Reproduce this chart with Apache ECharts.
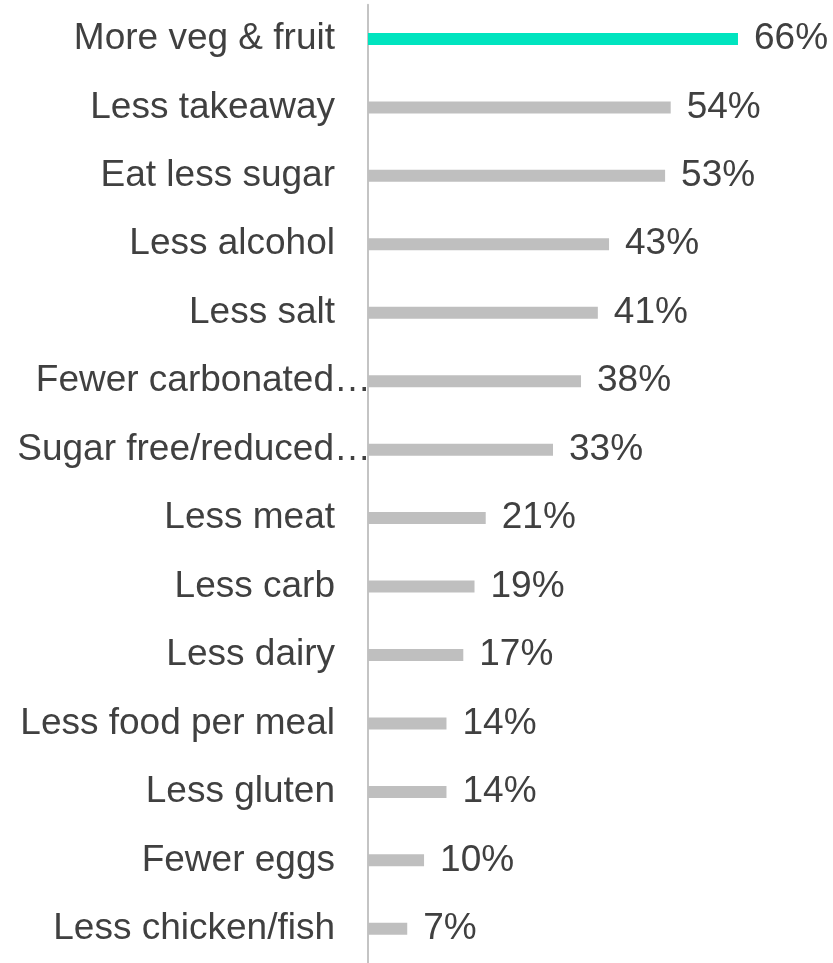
<!DOCTYPE html>
<html>
<head>
<meta charset="utf-8">
<script src="https://cdn.jsdelivr.net/npm/echarts@6/dist/echarts.min.js"></script>
<style>
  html, body { margin: 0; padding: 0; background: #ffffff; }
  #chart { width: 833px; height: 963px; }
</style>
</head>
<body>
<div id="chart"></div>
<script>
// Dietary changes, share of respondents (%)
const categories = [
  'More veg & fruit', 'Less takeaway', 'Eat less sugar', 'Less alcohol', 'Less salt',
  'Fewer carbonated…', 'Sugar free/reduced…', 'Less meat', 'Less carb', 'Less dairy',
  'Less food per meal', 'Less gluten', 'Fewer eggs', 'Less chicken/fish'
];
const shares = [66, 54, 53, 43, 41, 38, 33, 21, 19, 17, 14, 14, 10, 7];
const highlighted = ['More veg & fruit'];

const GREEN = '#00e4bf';
const GREY = '#bfbfbf';
const TEXT = '#404040';
const FONT = '"Liberation Sans", Arial, sans-serif';

// Long (truncated) labels run past the usual right edge, up to the axis line
const longLabels = ['Fewer carbonated…', 'Sugar free/reduced…'];

const chart = echarts.init(document.getElementById('chart'), null, { renderer: 'canvas' });

chart.setOption({
  animation: false,
  backgroundColor: '#ffffff',
  grid: { left: 368, top: 4.7, width: 392.4, height: 960.4, containLabel: false },
  xAxis: {
    type: 'value', min: 0, max: 70,
    show: false
  },
  yAxis: {
    type: 'category',
    inverse: true,
    data: categories.map(c => longLabels.includes(c)
      ? { value: c, textStyle: { padding: [4, -36, 0, 0] } }
      : c),
    axisLine: { show: true, lineStyle: { color: '#c4c4c4', width: 2 } },
    axisTick: { show: false },
    axisLabel: {
      margin: 33,
      fontSize: 37,
      padding: [4, 0, 0, 0],
      color: TEXT,
      fontFamily: FONT
    }
  },
  series: [{
    type: 'bar',
    barWidth: 12,
    data: shares.map((v, i) => ({
      value: v,
      itemStyle: { color: highlighted.includes(categories[i]) ? GREEN : GREY }
    })),
    label: {
      show: true,
      position: 'right',
      distance: 16,
      padding: [4, 0, 0, 0],
      formatter: p => p.value + '%',
      fontSize: 37,
      color: TEXT,
      fontFamily: FONT
    }
  }]
});
</script>
</body>
</html>
